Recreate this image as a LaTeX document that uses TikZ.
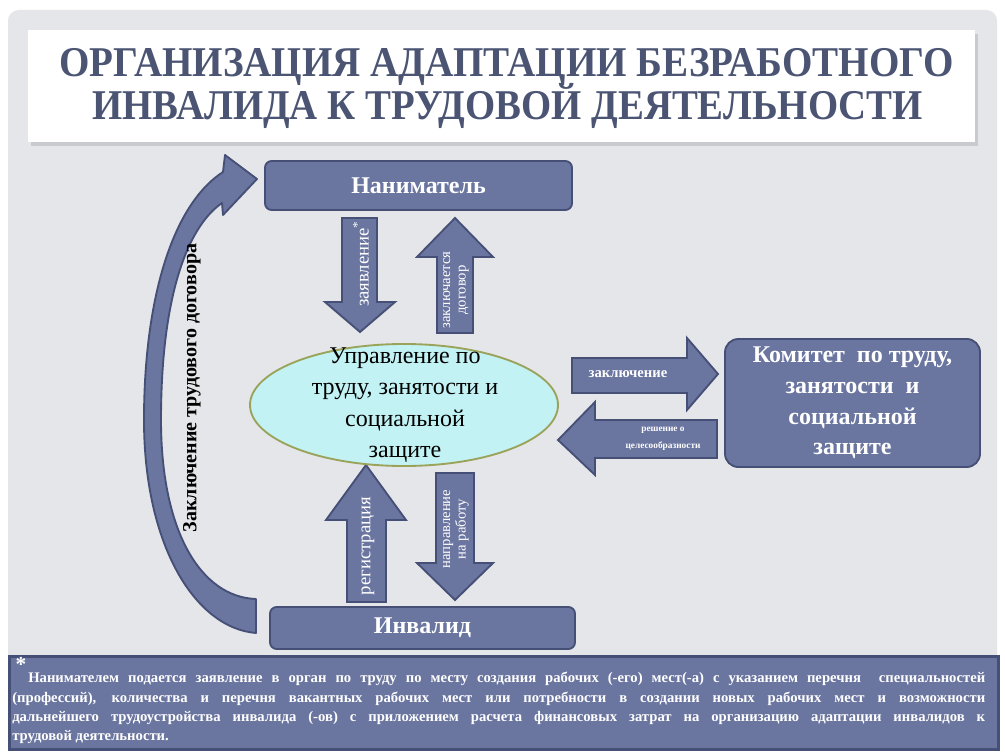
\documentclass[tikz,border=0pt]{standalone}
\usepackage{fontspec}
\setmainfont{Liberation Serif}
\newfontfamily\lsr{Liberation Serif}
\usetikzlibrary{shapes.geometric}
\definecolor{slate}{HTML}{6B76A0}
\definecolor{slateedge}{HTML}{465077}
\definecolor{titlec}{HTML}{4B5573}
\definecolor{bggray}{HTML}{E5E6E9}
\definecolor{shadowgray}{HTML}{C9CACE}
\definecolor{cyanfill}{HTML}{C2F2F4}
\definecolor{olive}{HTML}{9BA35A}
\tikzset{
  blockarrow/.style={fill=slate, draw=slateedge, line width=1.4pt, line join=miter},
  slatebox/.style={fill=slate, draw=slateedge, line width=1.4pt, rounded corners=5pt, inner sep=0pt, text=white, align=center},
  titletxt/.style={text=titlec, font=\lsr\bfseries\fontsize{30}{34}\selectfont, inner sep=0pt},
  boxtxt/.style={font=\lsr\bfseries\fontsize{18}{23}\selectfont},
  rottxt/.style={rotate=90, text=white, align=center, inner sep=0pt},
}
\begin{document}
\begin{tikzpicture}[x=0.75pt,y=-0.75pt]
\useasboundingbox (0,0) rectangle (1005,752);
\fill[white] (0,0) rectangle (1005,752);
\fill[bggray, rounded corners=8pt] (8,10) rectangle (997,746);
% title
\fill[shadowgray] (31,34) rectangle (978,146);
\fill[white] (28,30) rectangle (975,142);
\node[titletxt, anchor=base] (t1) at (506.5,77) {\scalebox{0.977}[1.06]{ОРГАНИЗАЦИЯ АДАПТАЦИИ БЕЗРАБОТНОГО}};
\node[titletxt, anchor=base] (t2) at (507.5,119.5) {\scalebox{0.97}[1.06]{ИНВАЛИДА К ТРУДОВОЙ ДЕЯТЕЛЬНОСТИ}};
% curved arrow
\draw[blockarrow, line join=round] (256,633) .. controls (195,628) and (144,545) .. (144,420)
  .. controls (144,300) and (172,205) .. (223,172)
  -- (225,155) -- (257,179) -- (223,215) -- (222,203)
  .. controls (186,228) and (161,300) .. (161,420)
  .. controls (161,530) and (200,597) .. (256,599) -- cycle;
\node[rotate=90, font=\lsr\bfseries\fontsize{15}{17}\selectfont, inner sep=0pt] (lbl) at (192,388) {Заключение трудового договора};
% vertical arrows
\draw[blockarrow] (342,218) -- (377,218) -- (377,302) -- (395,302) -- (360,332) -- (325,302) -- (342,302) -- cycle;
\node[rottxt, font=\lsr\fontsize{14}{15}\selectfont] (a1) at (361,264) {заявление\textsuperscript{*}};
\draw[blockarrow] (437,333) -- (473,333) -- (473,257) -- (493,257) -- (455,218) -- (417,257) -- (437,257) -- cycle;
\node[rottxt, font=\lsr\fontsize{11}{11.5}\selectfont] (a2) at (456,290) {заключается\\договор};
\draw[blockarrow] (347,602) -- (386,602) -- (386,520) -- (406,520) -- (366,465) -- (326,520) -- (347,520) -- cycle;
\node[rottxt, font=\lsr\fontsize{14}{15}\selectfont] (a3) at (368,546) {регистрация};
\draw[blockarrow] (436,473) -- (474,473) -- (474,563) -- (493,563) -- (455,600) -- (417,563) -- (436,563) -- cycle;
\node[rottxt, font=\lsr\fontsize{11}{11.5}\selectfont] (a4) at (456,529) {направление\\на работу};
% horizontal arrows
\draw[blockarrow] (572,358) -- (687,358) -- (687,338) -- (718,374) -- (687,410) -- (687,393) -- (572,393) -- cycle;
\node[text=white, font=\lsr\bfseries\fontsize{11}{12}\selectfont, inner sep=0pt] (a5) at (628,374) {заключение};
\draw[blockarrow] (717,420) -- (595,420) -- (595,402) -- (558,440) -- (595,475) -- (595,458) -- (717,458) -- cycle;
\node[text=white, font=\lsr\bfseries\fontsize{7}{12.5}\selectfont, inner sep=0pt, align=center] (a6) at (663,439) {решение о\\целесообразности};
% boxes
\node[slatebox, minimum width=230.25pt, minimum height=36.75pt, boxtxt] (emp) at (418.5,185.5) {Наниматель};
\node[slatebox, minimum width=228.75pt, minimum height=31.5pt, boxtxt] (inv) at (422.5,628) {Инвалид};
\node[slatebox, rounded corners=10pt, minimum width=191.25pt, minimum height=96pt, boxtxt] (kom) at (852.5,403) {Комитет~ по труду,\\занятости~ и\\социальной\\защите};
\node[ellipse, fill=cyanfill, draw=olive, line width=1.4pt, minimum width=231pt, minimum height=91.5pt, inner sep=0pt] (upr) at (404,405) {};
\node[font=\lsr\fontsize{18}{23.5}\selectfont, align=center, inner sep=0pt] (uprtxt) at (405,405) {Управление по\\труду, занятости и\\социальной\\защите};
% footnote
\node[fill=slate, draw=slateedge, line width=2.2pt, minimum width=741.75pt, minimum height=69.75pt, inner sep=0pt, anchor=north west] (foot) at (8,655) {};
\node[text=white, font=\lsr\bfseries\fontsize{16}{16}\selectfont, inner sep=0pt] (star) at (21,664) {*};
\node[text=white, anchor=north west, inner sep=0pt, text width=729.75pt, align=justify, font=\lsr\bfseries\fontsize{11}{14.5}\selectfont] (foottxt) at (12,672) {\hspace*{12pt}Нанимателем подается заявление в орган по труду по месту создания рабочих (-его) мест(-а) с указанием перечня~ специальностей\linebreak (профессий), количества и перечня вакантных рабочих мест или потребности в создании новых рабочих мест и возможности\linebreak дальнейшего трудоустройства инвалида (-ов) с приложением расчета финансовых затрат на организацию адаптации инвалидов к\linebreak трудовой деятельности.};
\end{tikzpicture}
\end{document}
